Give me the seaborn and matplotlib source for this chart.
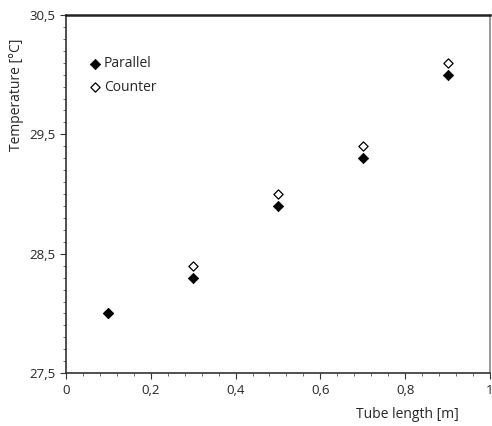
import matplotlib
matplotlib.use('Agg')
import matplotlib.pyplot as plt
import seaborn as sns
import pandas
from matplotlib.ticker import MultipleLocator, FuncFormatter

# ====== DATA

tube_length = [0.1, 0.3, 0.5, 0.7, 0.9]
temp_parallel = [28.0, 28.3, 28.9, 29.3, 30.0]
temp_counter = [28.0, 28.4, 29.0, 29.4, 30.1]

df_parallel = pandas.DataFrame({'length': tube_length, 'temp': temp_parallel})
df_counter = pandas.DataFrame({'length': tube_length, 'temp': temp_counter})

# ====== PLOT

sns.set_style('ticks')
plt.rcParams['font.family'] = ['Open Sans', 'DejaVu Sans']

fig = plt.figure(figsize=(4.92, 4.26), dpi=100)
ax = fig.add_axes([0.134, 0.124, 0.862, 0.841])

sns.scatterplot(x='length', y='temp', data=df_counter, ax=ax, marker='D', s=22,
                facecolor='white', edgecolor='black', linewidth=0.9, label='Counter', zorder=3)
sns.scatterplot(x='length', y='temp', data=df_parallel, ax=ax, marker='D', s=28,
                color='black', edgecolor='black', linewidth=0.5, label='Parallel', zorder=4)

ax.set_xlim(0, 1)
ax.set_ylim(27.5, 30.5)
ax.xaxis.set_major_locator(MultipleLocator(0.2))
ax.xaxis.set_minor_locator(MultipleLocator(0.04))
ax.yaxis.set_minor_locator(MultipleLocator(0.1))
ax.set_yticks([27.5, 28.5, 29.5, 30.5])

comma = FuncFormatter(lambda v, p: f'{v:g}'.replace('.', ','))
ax.xaxis.set_major_formatter(comma)
ax.yaxis.set_major_formatter(comma)
ax.tick_params(axis='both', which='major', length=4, width=0.8, labelsize=9.5, color='#333333')
ax.tick_params(axis='both', which='minor', length=2.5, width=0.6, color='#555555')

for side in ['left', 'bottom']:
    ax.spines[side].set_color('#333333')
    ax.spines[side].set_linewidth(1.2)
ax.spines['top'].set_color('#222222')
ax.spines['top'].set_linewidth(1.8)
ax.spines['right'].set_color('#888888')
ax.spines['right'].set_linewidth(1.2)

ax.set_xlabel('Tube length [m]', fontsize=10)
ax.set_ylabel('Temperature [°C]', fontsize=10)
ax.xaxis.set_label_coords(0.806, -0.095)
ax.yaxis.set_label_coords(-0.1, 0.777)

handles, labels = ax.get_legend_handles_labels()
ax.legend(handles[::-1], labels[::-1], loc='upper left', bbox_to_anchor=(0.04, 0.9),
          frameon=False, fontsize=10, handletextpad=0.1, borderaxespad=0,
          labelspacing=0.6, handlelength=1.0)

fig.savefig('out.png', dpi=100)
